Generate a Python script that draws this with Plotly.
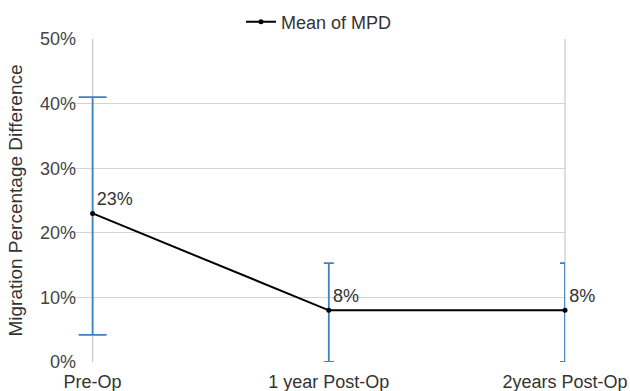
import plotly.graph_objects as go

categories = ["Pre-Op", "1 year Post-Op", "2years Post-Op"]
mean_mpd = [23, 8, 8]
err_plus = [18, 7.3, 7.3]
err_minus = [18.8, 8, 8]
labels = ["23%", "8%", "8%"]

FONT = "Liberation Sans, Arial, sans-serif"
BLUE = "#3f7fc4"
FRAME = "#c8c8c8"

# layout geometry: the category axis is padded on the left so the first
# error bar cap is not clipped; the y axis sits on the first category
PAD = 0.1
L_MARGIN = 69
R_MARGIN = 65
W = 630 - L_MARGIN - R_MARGIN
AXIS_POS = PAD / (2 + PAD)

fig = go.Figure()

# error bars for first point (wider caps)
fig.add_trace(go.Scatter(
    x=categories[:1], y=mean_mpd[:1], mode="markers",
    marker=dict(size=1, color="rgba(0,0,0,0)"),
    error_y=dict(type="data", symmetric=False, array=err_plus[:1],
                 arrayminus=err_minus[:1], color=BLUE, thickness=1.8, width=14),
    showlegend=False, hoverinfo="skip"))
# error bars for the rest (narrow caps)
fig.add_trace(go.Scatter(
    x=categories[1:], y=mean_mpd[1:], mode="markers",
    marker=dict(size=1, color="rgba(0,0,0,0)"),
    error_y=dict(type="data", symmetric=False, array=err_plus[1:],
                 arrayminus=err_minus[1:], color=BLUE, thickness=1.8, width=5),
    showlegend=False, hoverinfo="skip", cliponaxis=False))

fig.add_trace(go.Scatter(
    x=categories, y=mean_mpd, mode="lines+markers+text",
    name="Mean of MPD",
    line=dict(color="black", width=2),
    marker=dict(color="black", size=5),
    text=labels, textposition="top right",
    textfont=dict(family=FONT, size=18, color="#333333"),
    cliponaxis=False))

# hide grid to the left of the y axis, and draw the frame lines
fig.add_shape(type="rect", xref="paper", yref="paper",
              x0=-0.01, x1=AXIS_POS, y0=-0.01, y1=1.01, layer="between",
              line=dict(width=0), fillcolor="white")
for xpos in (AXIS_POS, 1):
    fig.add_shape(type="line", xref="paper", yref="paper",
                  x0=xpos, x1=xpos, y0=0, y1=1, layer="between",
                  line=dict(color=FRAME, width=1.2))

fig.update_layout(
    width=630, height=391,
    margin=dict(l=L_MARGIN, r=R_MARGIN, t=39, b=29, autoexpand=False),
    paper_bgcolor="white", plot_bgcolor="white",
    font=dict(family=FONT, size=18, color="#444444"),
    legend=dict(orientation="h", xref="container", x=319 / 630, xanchor="center",
                yref="container", y=1 - 22 / 391, yanchor="middle",
                font=dict(family=FONT, size=18, color="#333333"),
                bgcolor="rgba(0,0,0,0)", itemwidth=30),
    xaxis=dict(type="category", range=[-PAD, 2], showgrid=False,
               showline=False, zeroline=False, automargin=False,
               ticks="outside", ticklen=3, tickcolor="rgba(0,0,0,0)",
               tickfont=dict(family=FONT, size=18, color="#333333")),
    yaxis=dict(range=[0, 50], dtick=10, ticksuffix="%",
               anchor="free", position=AXIS_POS,
               showgrid=True, gridcolor="#d4d4d4", gridwidth=1.2,
               showline=False, zeroline=False, automargin=False,
               ticks="outside", ticklen=13, tickcolor="rgba(0,0,0,0)",
               tickfont=dict(family=FONT, size=18, color="#444444"),
               title=dict(text="Migration Percentage Difference",
                          font=dict(family=FONT, size=19, color="#333333"),
                          standoff=11)),
)

fig.write_html("out.html", config={"displayModeBar": False},
               post_script="document.body.style.margin='0';")
